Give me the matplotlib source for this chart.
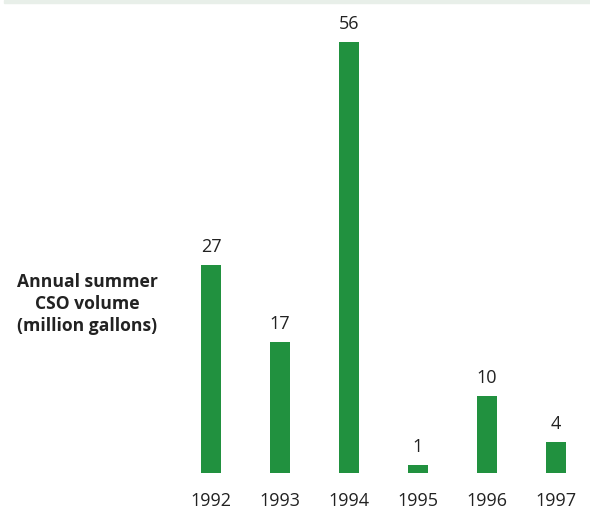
import matplotlib.pyplot as plt
from matplotlib.patches import Rectangle

years = ['1992', '1993', '1994', '1995', '1996', '1997']
volumes = [27, 17, 56, 1, 10, 4]

bar_color = '#21913f'
text_color = '#222222'

plt.rcParams['font.family'] = ['Open Sans', 'DejaVu Sans']

fig = plt.figure(figsize=(5.9, 5.12), dpi=100)
ax = fig.add_axes([176.5 / 590, 1 - 473 / 512, 414 / 590, 462 / 512])

x = range(len(years))
ax.bar(x, volumes, width=0.29, color=bar_color)
for xi, v in zip(x, volumes):
    ax.text(xi, v + 1.2, str(v), ha='center', va='bottom', fontsize=13, color=text_color)

ax.set_xlim(-0.5, 5.5)
ax.set_ylim(0, 60)
ax.set_xticks(list(x))
ax.set_xticklabels(years, fontsize=13, color=text_color)
ax.tick_params(axis='x', length=0, pad=14)
ax.set_yticks([])
for s in ax.spines.values():
    s.set_visible(False)

fig.text(87 / 590, 1 - 304 / 512, 'Annual summer\nCSO volume\n(million gallons)',
         ha='center', va='center', fontsize=12.6, fontweight='bold',
         color=text_color, linespacing=1.3)

# thin band along the top edge
fig.patches.append(Rectangle((4 / 590, 1 - 3 / 512), 1, 3 / 512,
                             transform=fig.transFigure, color='#e8efe9'))

fig.savefig('out.png', dpi=100)
